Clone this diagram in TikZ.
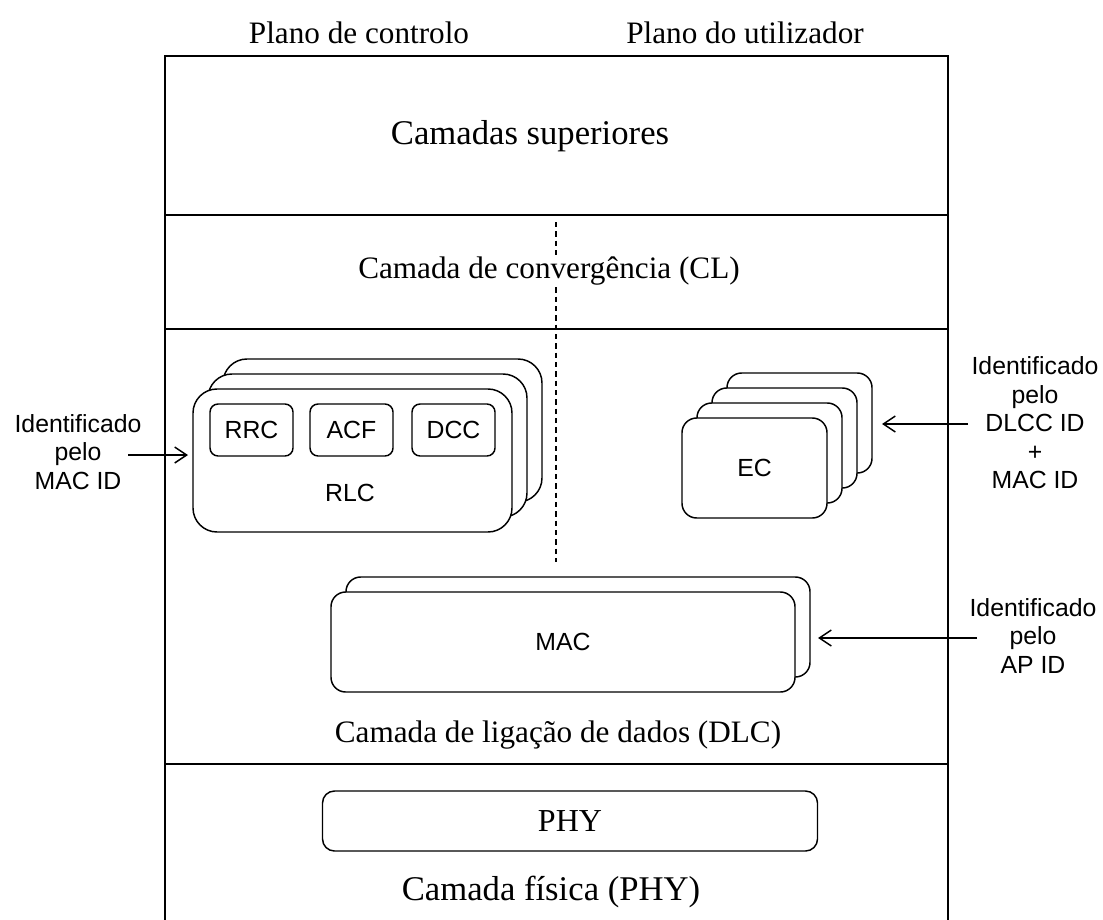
\documentclass[tikz,border=0pt]{standalone}
\usepackage{fontspec}
\setmainfont{Liberation Serif}
\setsansfont{Liberation Sans}
\usetikzlibrary{arrows.meta}

\tikzset{
  x=0.75pt, y=-0.75pt,
  layer/.style={line width=1.5pt},
  serif/.style={font=\fontsize{23.4pt}{28pt}\selectfont},
  serifbig/.style={font=\fontsize{26pt}{30pt}\selectfont},
  sans/.style={font=\sffamily\fontsize{18.6pt}{21.4pt}\selectfont, align=center},
  rbox/.style={draw, fill=white, line width=1.1pt, inner sep=0pt,
               font=\sffamily\fontsize{18.6pt}{21.4pt}\selectfont},
  bigbox/.style={rbox, rounded corners=18pt,
                 minimum width=319*0.75pt, minimum height=143*0.75pt},
  ecbox/.style={rbox, rounded corners=11pt,
                minimum width=145*0.75pt, minimum height=100*0.75pt},
  macbox/.style={rbox, rounded corners=11pt,
                 minimum width=464*0.75pt, minimum height=100*0.75pt},
  subbox/.style={rbox, rounded corners=6pt,
                 minimum width=83*0.75pt, minimum height=52*0.75pt},
  phybox/.style={rbox, rounded corners=9pt, font=\fontsize{24pt}{28pt}\selectfont,
                 minimum width=495*0.75pt, minimum height=60*0.75pt},
  idarrow/.style={line width=1.1pt, -{Straight Barb[length=9pt, width=12pt, line width=1.1pt]}},
  planesep/.style={line width=1.1pt, dash pattern=on 4pt off 3pt}
}

\begin{document}
\begin{tikzpicture}
\useasboundingbox (0,0) rectangle (1103,920);

% plane headings
\node[serif] (hctl) at (359,33) {Plano de controlo};
\node[serif] (husr) at (745,33) {Plano do utilizador};

% layer frame
\draw[layer] (165,925) -- (165,56) -- (948,56) -- (948,925);
\draw[layer] (165,215) -- (948,215);
\draw[layer] (165,329) -- (948,329);
\draw[layer] (165,764) -- (948,764);

% control / user plane separator
\coordinate (sepTop) at (556,222);
\coordinate (sepBot) at (556,562);
\draw[planesep] (sepTop) -- (sepBot);

% layer titles
\node[serifbig] (upper) at (530,136) {Camadas superiores};
\node[serif, fill=white, inner sep=1pt] (cl) at (549,271) {Camada de convergência (CL)};
\node[serif] (dlc) at (558,735) {Camada de ligação de dados (DLC)};
\node[serifbig] (phyl) at (551,892) {Camada física (PHY)};

% RLC instances
\node[bigbox] (rlc3) at (382.5,430.5) {};
\node[bigbox] (rlc2) at (367.5,445.5) {};
\node[bigbox] (rlc) at (352.5,460.5) {};
\node[subbox] (rrc) at (251.5,430) {RRC};
\node[subbox] (acf) at (351.5,430) {ACF};
\node[subbox] (dcc) at (453.5,430) {DCC};
\node[sans] (rlclbl) at (350,493) {RLC};

% EC instances
\node[ecbox] (ec4) at (799.5,423) {};
\node[ecbox] (ec3) at (784.5,438) {};
\node[ecbox] (ec2) at (769.5,453) {};
\node[ecbox] (ec) at (754.5,468) {EC};

% MAC instances
\node[macbox] (mac2) at (578,627) {};
\node[macbox] (mac) at (563,642) {MAC};

% PHY
\node[phybox] (phy) at (570,821) {PHY};

% identifier labels
\node[sans] (idmac) at (78,452) {Identificado\\pelo\\MAC ID};
\node[sans] (iddlcc) at (1035,423) {Identificado\\pelo\\DLCC ID\\+\\MAC ID};
\node[sans] (idap) at (1033,636) {Identificado\\pelo\\AP ID};

% identifier arrows
\coordinate (amacS) at (128,455);
\coordinate (amacE) at (188,455);
\draw[idarrow] (amacS) -- (amacE);
\coordinate (adlccS) at (968,424);
\coordinate (adlccE) at (882,424);
\draw[idarrow] (adlccS) -- (adlccE);
\coordinate (aapS) at (977,638);
\coordinate (aapE) at (818,638);
\draw[idarrow] (aapS) -- (aapE);
\end{tikzpicture}
\end{document}
